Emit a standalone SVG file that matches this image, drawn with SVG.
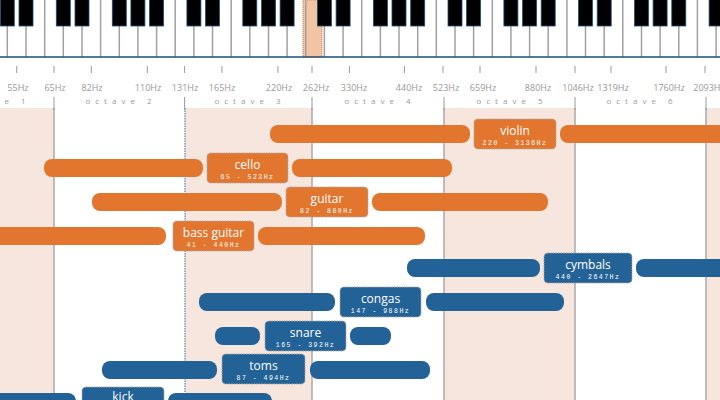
<svg xmlns="http://www.w3.org/2000/svg" width="720" height="400" viewBox="0 0 720 400">
<style>
.wl{stroke:#a0a0a0;stroke-width:1.5}
.bk{fill:#000;stroke:#1f4e79;stroke-width:0.8}
.tk{stroke:#999;stroke-width:1}
.fq{font-family:"Open Sans","Liberation Sans",sans-serif;font-size:9px;fill:#999;text-anchor:middle}
.oc{font-family:"Open Sans","Liberation Sans",sans-serif;font-size:8px;fill:#999;text-anchor:middle;letter-spacing:5px}
.band{fill:#f7e6de}
.grid{stroke:#a8a8a8;stroke-width:1.5}
.o{fill:#e3762f}
.b{fill:#236297}
.box{stroke:#aaa;stroke-width:1;stroke-dasharray:1.5 1}
.t{font-family:"Open Sans","Liberation Sans",sans-serif;font-size:12px;fill:#fff;text-anchor:middle}
.r{font-family:"Liberation Mono",monospace;font-size:6.5px;fill:#fff;text-anchor:middle;letter-spacing:1.5px}
</style>
<rect width="720" height="400" fill="#fff"/>
<g id="background">
<rect class="band" x="0" y="108" width="54" height="292"/>
<rect class="band" x="185" y="108" width="127" height="292"/>
<rect class="band" x="444" y="108" width="131" height="292"/>
<rect class="band" x="706" y="108" width="14" height="292"/>
<line class="grid" x1="54" y1="108" x2="54" y2="400"/>
<line x1="185" y1="108" x2="185" y2="400" stroke="#2a6aa8" stroke-width="1" stroke-dasharray="1.5 1"/>
<line class="grid" x1="312" y1="108" x2="312" y2="400"/>
<line class="grid" x1="444" y1="108" x2="444" y2="400"/>
<line class="grid" x1="575" y1="108" x2="575" y2="400"/>
<line class="grid" x1="706" y1="108" x2="706" y2="400"/>
</g>
<g id="keyboard">
<rect x="303" y="0" width="19" height="57" fill="#f1c4a4" stroke="#e3762f" stroke-dasharray="1 1"/>
<g>
<line class="wl" x1="7.3" y1="26" x2="7.3" y2="57"/><line class="wl" x1="26" y1="26" x2="26" y2="57"/><line class="wl" x1="44.7" y1="0" x2="44.7" y2="57"/><line class="wl" x1="63.3" y1="26" x2="63.3" y2="57"/><line class="wl" x1="82" y1="26" x2="82" y2="57"/><line class="wl" x1="100.6" y1="0" x2="100.6" y2="57"/><line class="wl" x1="119.3" y1="26" x2="119.3" y2="57"/><line class="wl" x1="137.9" y1="26" x2="137.9" y2="57"/><line class="wl" x1="156.6" y1="26" x2="156.6" y2="57"/>
<line class="wl" x1="175.2" y1="0" x2="175.2" y2="57"/><line class="wl" x1="193.9" y1="26" x2="193.9" y2="57"/><line class="wl" x1="212.5" y1="26" x2="212.5" y2="57"/><line class="wl" x1="231.2" y1="0" x2="231.2" y2="57"/><line class="wl" x1="249.8" y1="26" x2="249.8" y2="57"/><line class="wl" x1="268.5" y1="26" x2="268.5" y2="57"/><line class="wl" x1="287.1" y1="26" x2="287.1" y2="57"/>
<line class="wl" x1="305.8" y1="0" x2="305.8" y2="57"/><line class="wl" x1="324.4" y1="26" x2="324.4" y2="57"/><line class="wl" x1="343.1" y1="26" x2="343.1" y2="57"/><line class="wl" x1="361.7" y1="0" x2="361.7" y2="57"/><line class="wl" x1="380.4" y1="26" x2="380.4" y2="57"/><line class="wl" x1="399" y1="26" x2="399" y2="57"/><line class="wl" x1="417.7" y1="26" x2="417.7" y2="57"/>
<line class="wl" x1="436.3" y1="0" x2="436.3" y2="57"/><line class="wl" x1="455" y1="26" x2="455" y2="57"/><line class="wl" x1="473.6" y1="26" x2="473.6" y2="57"/><line class="wl" x1="492.3" y1="0" x2="492.3" y2="57"/><line class="wl" x1="510.9" y1="26" x2="510.9" y2="57"/><line class="wl" x1="529.6" y1="26" x2="529.6" y2="57"/><line class="wl" x1="548.2" y1="26" x2="548.2" y2="57"/>
<line class="wl" x1="566.9" y1="0" x2="566.9" y2="57"/><line class="wl" x1="585.5" y1="26" x2="585.5" y2="57"/><line class="wl" x1="604.2" y1="26" x2="604.2" y2="57"/><line class="wl" x1="622.8" y1="0" x2="622.8" y2="57"/><line class="wl" x1="641.5" y1="26" x2="641.5" y2="57"/><line class="wl" x1="660.1" y1="26" x2="660.1" y2="57"/><line class="wl" x1="678.8" y1="26" x2="678.8" y2="57"/>
<line class="wl" x1="697.4" y1="0" x2="697.4" y2="57"/><line class="wl" x1="716.1" y1="26" x2="716.1" y2="57"/>
</g>
<g>
<rect class="bk" x="0.3" y="-1" width="14" height="27"/><rect class="bk" x="19" y="-1" width="14" height="27"/>
<rect class="bk" x="56.3" y="-1" width="14" height="27"/><rect class="bk" x="75" y="-1" width="14" height="27"/><rect class="bk" x="112.3" y="-1" width="14" height="27"/><rect class="bk" x="130.9" y="-1" width="14" height="27"/><rect class="bk" x="149.6" y="-1" width="14" height="27"/>
<rect class="bk" x="186.9" y="-1" width="14" height="27"/><rect class="bk" x="205.5" y="-1" width="14" height="27"/><rect class="bk" x="242.8" y="-1" width="14" height="27"/><rect class="bk" x="261.5" y="-1" width="14" height="27"/><rect class="bk" x="280.1" y="-1" width="14" height="27"/>
<rect class="bk" x="317.4" y="-1" width="14" height="27"/><rect class="bk" x="336.1" y="-1" width="14" height="27"/><rect class="bk" x="373.4" y="-1" width="14" height="27"/><rect class="bk" x="392" y="-1" width="14" height="27"/><rect class="bk" x="410.7" y="-1" width="14" height="27"/>
<rect class="bk" x="448" y="-1" width="14" height="27"/><rect class="bk" x="466.6" y="-1" width="14" height="27"/><rect class="bk" x="503.9" y="-1" width="14" height="27"/><rect class="bk" x="522.6" y="-1" width="14" height="27"/><rect class="bk" x="541.2" y="-1" width="14" height="27"/>
<rect class="bk" x="578.5" y="-1" width="14" height="27"/><rect class="bk" x="597.2" y="-1" width="14" height="27"/><rect class="bk" x="634.5" y="-1" width="14" height="27"/><rect class="bk" x="653.1" y="-1" width="14" height="27"/><rect class="bk" x="671.8" y="-1" width="14" height="27"/>
<rect class="bk" x="709.1" y="-1" width="14" height="27"/>
</g>
<line x1="0" y1="57" x2="720" y2="57" stroke="#1f4e79" stroke-width="1.5"/>
</g>
<g id="axis">
<g class="tk">
<line x1="16.7" y1="66" x2="16.7" y2="73"/><line x1="54" y1="66" x2="54" y2="73"/><line x1="91.3" y1="66" x2="91.3" y2="73"/><line x1="147.3" y1="66" x2="147.3" y2="73"/><line x1="184.6" y1="66" x2="184.6" y2="73"/><line x1="221.9" y1="66" x2="221.9" y2="73"/><line x1="277.9" y1="66" x2="277.9" y2="73"/><line x1="312" y1="66" x2="312" y2="73"/><line x1="349.4" y1="66" x2="349.4" y2="73"/><line x1="404.4" y1="66" x2="404.4" y2="73"/><line x1="443" y1="66" x2="443" y2="73"/><line x1="480" y1="66" x2="480" y2="73"/><line x1="536" y1="66" x2="536" y2="73"/><line x1="575" y1="66" x2="575" y2="73"/><line x1="611" y1="66" x2="611" y2="73"/><line x1="666" y1="66" x2="666" y2="73"/><line x1="705" y1="66" x2="705" y2="73"/>
<line x1="54" y1="97" x2="54" y2="110"/><line x1="184.6" y1="97" x2="184.6" y2="110"/><line x1="312" y1="97" x2="312" y2="110"/><line x1="444" y1="97" x2="444" y2="110"/><line x1="575" y1="97" x2="575" y2="110"/><line x1="706" y1="97" x2="706" y2="110"/>
</g>
<text class="fq" x="18" y="91">55Hz</text><text class="fq" x="55" y="91">65Hz</text><text class="fq" x="92" y="91">82Hz</text><text class="fq" x="148" y="91">110Hz</text><text class="fq" x="185" y="91">131Hz</text><text class="fq" x="222" y="91">165Hz</text><text class="fq" x="279" y="91">220Hz</text><text class="fq" x="316" y="91">262Hz</text><text class="fq" x="354" y="91">330Hz</text><text class="fq" x="409" y="91">440Hz</text><text class="fq" x="446" y="91">523Hz</text><text class="fq" x="483" y="91">659Hz</text><text class="fq" x="538" y="91">880Hz</text><text class="fq" x="578" y="91">1046Hz</text><text class="fq" x="613" y="91">1319Hz</text><text class="fq" x="669" y="91">1760Hz</text><text class="fq" x="709" y="91">2093Hz</text>
<text class="oc" x="-5" y="104">octave 1</text><text class="oc" x="121" y="104">octave 2</text><text class="oc" x="250" y="104">octave 3</text><text class="oc" x="380" y="104">octave 4</text><text class="oc" x="512" y="104">octave 5</text><text class="oc" x="642" y="104">octave 6</text>
</g>
<g id="connectors">
<rect class="o" x="270" y="125" width="200" height="18" rx="8"/><rect class="o" x="560" y="125" width="170" height="18" rx="8"/>
<rect class="o" x="44" y="159" width="159" height="18" rx="8"/><rect class="o" x="292" y="159" width="160" height="18" rx="8"/>
<rect class="o" x="92" y="193" width="190" height="18" rx="8"/><rect class="o" x="372" y="193" width="176" height="18" rx="8"/>
<rect class="o" x="-10" y="227" width="176" height="18" rx="8"/><rect class="o" x="258" y="227" width="167" height="18" rx="8"/>
<rect class="b" x="407" y="259" width="133" height="18" rx="8"/><rect class="b" x="636" y="259" width="94" height="18" rx="8"/>
<rect class="b" x="199" y="293" width="136" height="18" rx="8"/><rect class="b" x="426" y="293" width="138" height="18" rx="8"/>
<rect class="b" x="215" y="327" width="45" height="18" rx="8"/><rect class="b" x="350" y="327" width="41" height="18" rx="8"/>
<rect class="b" x="102" y="361" width="115" height="18" rx="8"/><rect class="b" x="310" y="361" width="120" height="18" rx="8"/>
<rect class="b" x="-10" y="393" width="86" height="18" rx="8"/><rect class="b" x="168" y="393" width="104" height="18" rx="8"/>
</g>
<g id="violin"><rect class="o box" x="474" y="119" width="82" height="30" rx="4"/><text class="t" x="515" y="135">violin</text><text class="r" x="515" y="145">220 - 3136Hz</text></g>
<g id="cello"><rect class="o box" x="207" y="153" width="81" height="30" rx="4"/><text class="t" x="247.5" y="169">cello</text><text class="r" x="247.5" y="179">65 - 523Hz</text></g>
<g id="guitar"><rect class="o box" x="286" y="187" width="82" height="30" rx="4"/><text class="t" x="327" y="203">guitar</text><text class="r" x="327" y="213">82 - 880Hz</text></g>
<g id="bass-guitar"><rect class="o box" x="173" y="221" width="81" height="30" rx="4"/><text class="t" x="213.5" y="237">bass guitar</text><text class="r" x="213.5" y="247">41 - 440Hz</text></g>
<g id="cymbals"><rect class="b box" x="544" y="253" width="88" height="30" rx="4"/><text class="t" x="588" y="269">cymbals</text><text class="r" x="588" y="279">440 - 2647Hz</text></g>
<g id="congas"><rect class="b box" x="340" y="287" width="81" height="30" rx="4"/><text class="t" x="380.5" y="303">congas</text><text class="r" x="380.5" y="313">147 - 988Hz</text></g>
<g id="snare"><rect class="b box" x="265" y="321" width="81" height="30" rx="4"/><text class="t" x="305.5" y="337">snare</text><text class="r" x="305.5" y="347">165 - 392Hz</text></g>
<g id="toms"><rect class="b box" x="222" y="354" width="83" height="30" rx="4"/><text class="t" x="263.5" y="370">toms</text><text class="r" x="263.5" y="380">87 - 494Hz</text></g>
<g id="kick"><rect class="b box" x="82" y="387" width="82" height="30" rx="4"/><text class="t" x="123" y="401">kick</text></g>
</svg>
